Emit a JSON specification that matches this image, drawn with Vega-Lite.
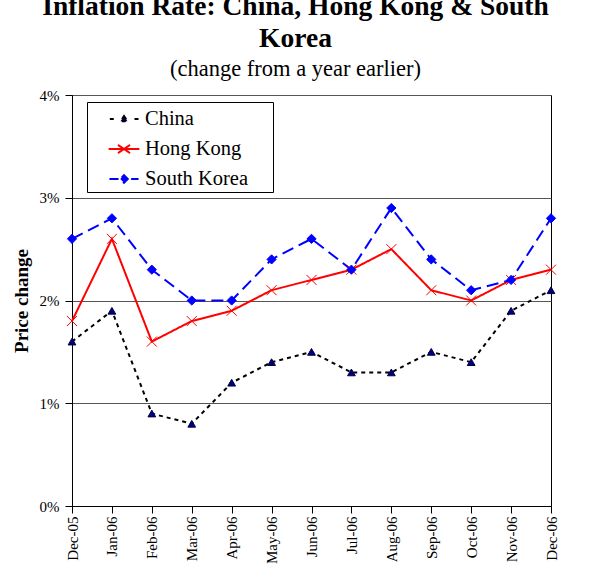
{
  "$schema": "https://vega.github.io/schema/vega-lite/v6.json",
  "width": 479,
  "height": 411,
  "autosize": {"type": "none"},
  "padding": {"left": 72, "top": 95, "right": 38, "bottom": 65},
  "background": "white",
  "title": {
    "text": ["Inflation Rate: China, Hong Kong & South", "Korea"],
    "subtitle": "(change from a year earlier)",
    "font": "Liberation Serif",
    "fontSize": 27.5,
    "fontWeight": "bold",
    "lineHeight": 32,
    "color": "black",
    "subtitleFont": "Liberation Serif",
    "subtitleFontSize": 22.5,
    "subtitleColor": "black",
    "subtitlePadding": 5,
    "anchor": "middle",
    "dx": -16,
    "offset": 8
  },
  "data": {
    "values": [
      {"month": "Dec-05", "series": "China", "value": 1.6},
      {"month": "Jan-06", "series": "China", "value": 1.9},
      {"month": "Feb-06", "series": "China", "value": 0.9},
      {"month": "Mar-06", "series": "China", "value": 0.8},
      {"month": "Apr-06", "series": "China", "value": 1.2},
      {"month": "May-06", "series": "China", "value": 1.4},
      {"month": "Jun-06", "series": "China", "value": 1.5},
      {"month": "Jul-06", "series": "China", "value": 1.3},
      {"month": "Aug-06", "series": "China", "value": 1.3},
      {"month": "Sep-06", "series": "China", "value": 1.5},
      {"month": "Oct-06", "series": "China", "value": 1.4},
      {"month": "Nov-06", "series": "China", "value": 1.9},
      {"month": "Dec-06", "series": "China", "value": 2.1},
      {"month": "Dec-05", "series": "Hong Kong", "value": 1.8},
      {"month": "Jan-06", "series": "Hong Kong", "value": 2.6},
      {"month": "Feb-06", "series": "Hong Kong", "value": 1.6},
      {"month": "Mar-06", "series": "Hong Kong", "value": 1.8},
      {"month": "Apr-06", "series": "Hong Kong", "value": 1.9},
      {"month": "May-06", "series": "Hong Kong", "value": 2.1},
      {"month": "Jun-06", "series": "Hong Kong", "value": 2.2},
      {"month": "Jul-06", "series": "Hong Kong", "value": 2.3},
      {"month": "Aug-06", "series": "Hong Kong", "value": 2.5},
      {"month": "Sep-06", "series": "Hong Kong", "value": 2.1},
      {"month": "Oct-06", "series": "Hong Kong", "value": 2.0},
      {"month": "Nov-06", "series": "Hong Kong", "value": 2.2},
      {"month": "Dec-06", "series": "Hong Kong", "value": 2.3},
      {"month": "Dec-05", "series": "South Korea", "value": 2.6},
      {"month": "Jan-06", "series": "South Korea", "value": 2.8},
      {"month": "Feb-06", "series": "South Korea", "value": 2.3},
      {"month": "Mar-06", "series": "South Korea", "value": 2.0},
      {"month": "Apr-06", "series": "South Korea", "value": 2.0},
      {"month": "May-06", "series": "South Korea", "value": 2.4},
      {"month": "Jun-06", "series": "South Korea", "value": 2.6},
      {"month": "Jul-06", "series": "South Korea", "value": 2.3},
      {"month": "Aug-06", "series": "South Korea", "value": 2.9},
      {"month": "Sep-06", "series": "South Korea", "value": 2.4},
      {"month": "Oct-06", "series": "South Korea", "value": 2.1},
      {"month": "Nov-06", "series": "South Korea", "value": 2.2},
      {"month": "Dec-06", "series": "South Korea", "value": 2.8}
    ]
  },
  "encoding": {
    "x": {
      "field": "month",
      "type": "ordinal",
      "sort": ["Dec-05","Jan-06","Feb-06","Mar-06","Apr-06","May-06","Jun-06","Jul-06","Aug-06","Sep-06","Oct-06","Nov-06","Dec-06"],
      "scale": {"type": "point", "padding": 0},
      "axis": {
        "title": null,
        "labelAngle": -90,
        "labelFont": "Liberation Serif",
        "labelFontSize": 15,
        "labelColor": "black",
        "labelPadding": 3,
        "tickSize": 7,
        "tickColor": "black",
        "domainColor": "black",
        "grid": false
      }
    },
    "y": {
      "field": "value",
      "type": "quantitative",
      "scale": {"domain": [0, 4], "nice": false},
      "axis": {
        "title": "Price change",
        "titleFont": "Liberation Serif",
        "titleFontSize": 19,
        "titleFontWeight": "bold",
        "titleColor": "black",
        "titlePadding": 8,
        "values": [0, 1, 2, 3, 4],
        "labelExpr": "datum.value + '%'",
        "labelFont": "Liberation Serif",
        "labelFontSize": 15,
        "labelColor": "black",
        "labelPadding": 6,
        "tickSize": 7,
        "tickColor": "black",
        "domainColor": "black",
        "grid": true,
        "gridColor": "#555555",
        "gridOpacity": 1
      }
    }
  },
  "layer": [
    {
      "mark": {"type": "line", "strokeWidth": 2},
      "encoding": {
        "stroke": {
          "field": "series",
          "type": "nominal",
          "scale": {"domain": ["China", "Hong Kong", "South Korea"], "range": ["black", "#ff0000", "#0000ff"]},
          "legend": {
            "title": null,
            "orient": "none",
            "legendX": 15,
            "legendY": 7,
            "padding": 2,
            "strokeColor": "black",
            "fillColor": "white",
            "symbolSize": 784,
            "symbolStrokeWidth": 2,
            "symbolOffset": 20,
            "labelOffset": 6,
            "labelFont": "Liberation Serif",
            "labelFontSize": 20.5,
            "labelColor": "black",
            "rowPadding": 4,
            "encode": {
              "symbols": {
                "update": {
                  "shape": {"signal": "datum.value === 'China' ? 'M-1.01,0L-0.73,0M0.75,0L1.06,0M0,-0.21L0.25,0.16L-0.25,0.16ZM10.2,0' : datum.value === 'Hong Kong' ? 'M-1.1,0L1.1,0M-0.43,-0.29L0.43,0.29M-0.43,0.29L0.43,-0.29M10.2,0' : 'M-1.04,0L-0.39,0M0.51,0L1.04,0M0,-0.27L0.27,0L0,0.27L-0.27,0ZM10.2,0'"},
                  "fill": {"signal": "datum.value === 'China' ? '#000080' : datum.value === 'Hong Kong' ? 'transparent' : '#0000ff'"},
                  "stroke": {"signal": "datum.value === 'China' ? 'black' : datum.value === 'Hong Kong' ? '#ff0000' : '#0000ff'"},
                  "strokeDash": {"value": []},
                  "size": {"value": 784},
                  "opacity": {"value": 1}
                }
              }
            }
          }
        },
        "strokeDash": {
          "field": "series",
          "type": "nominal",
          "scale": {"domain": ["China", "Hong Kong", "South Korea"], "range": [[4, 4], [1, 0], [12, 6]]},
          "legend": null
        }
      }
    },
    {
      "transform": [{"filter": "datum.series === 'China'"}],
      "mark": {"type": "point", "shape": "triangle-up", "size": 60, "filled": true, "fill": "#000080", "stroke": "#000040", "strokeWidth": 1, "opacity": 1}
    },
    {
      "transform": [{"filter": "datum.series === 'Hong Kong'"}],
      "mark": {"type": "point", "shape": "M-1,-1L1,1M-1,1L1,-1", "size": 100, "filled": false, "fill": "transparent", "stroke": "#ff0000", "strokeWidth": 1, "opacity": 1}
    },
    {
      "transform": [{"filter": "datum.series === 'South Korea'"}],
      "mark": {"type": "point", "shape": "diamond", "size": 85, "filled": true, "fill": "#0000ff", "stroke": "#0000ff", "strokeWidth": 1, "opacity": 1}
    }
  ],
  "config": {
    "font": "Liberation Serif",
    "view": {"stroke": "black", "strokeWidth": 1}
  }
}
